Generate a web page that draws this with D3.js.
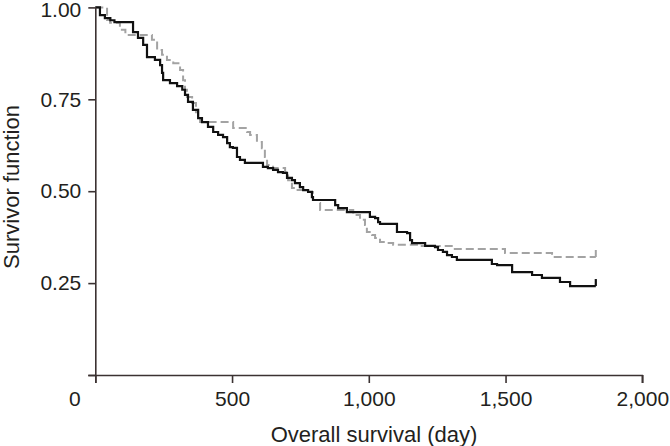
<!DOCTYPE html>
<html>
<head>
<meta charset="utf-8">
<script src="https://cdn.jsdelivr.net/npm/d3@7"></script>
<style>
  body { margin: 0; background: #fff; }
  svg { display: block; }
  text { font-family: "Liberation Sans", Arial, sans-serif; fill: #231f20; }
</style>
</head>
<body>
<svg width="670" height="446"></svg>
<script>
// Kaplan-Meier step data (day of event, survival after event)
var solidDays = [0, 17, 35, 55, 70, 138, 156, 175, 189, 218, 237, 244, 248, 273, 299, 318, 328, 339, 357, 376, 390, 412, 431, 449, 467, 482, 492, 503, 518, 529, 547, 613, 631, 650, 668, 686, 701, 719, 730, 748, 760, 778, 792, 796, 877, 888, 920, 1004, 1023, 1034, 1041, 1103, 1140, 1151, 1158, 1206, 1242, 1253, 1271, 1286, 1304, 1322, 1450, 1469, 1524, 1597, 1633, 1699, 1736];
var solidSurv = [1.0, 0.979, 0.971, 0.965, 0.960, 0.933, 0.917, 0.898, 0.865, 0.857, 0.843, 0.822, 0.802, 0.794, 0.786, 0.776, 0.762, 0.743, 0.721, 0.699, 0.688, 0.675, 0.661, 0.653, 0.647, 0.631, 0.620, 0.618, 0.593, 0.585, 0.577, 0.566, 0.563, 0.558, 0.552, 0.550, 0.536, 0.530, 0.522, 0.511, 0.503, 0.498, 0.484, 0.476, 0.462, 0.454, 0.443, 0.430, 0.427, 0.416, 0.411, 0.389, 0.386, 0.367, 0.359, 0.351, 0.348, 0.340, 0.335, 0.326, 0.321, 0.313, 0.302, 0.299, 0.280, 0.272, 0.264, 0.253, 0.242];

var dashDays = [0, 43, 54, 90, 110, 207, 226, 244, 262, 285, 310, 321, 328, 335, 354, 368, 376, 383, 504, 555, 566, 591, 609, 620, 628, 650, 694, 705, 719, 730, 778, 796, 815, 822, 943, 968, 986, 993, 1012, 1023, 1041, 1066, 1089, 1176, 1308, 1498, 1670];
var dashSurv = [1.0, 0.966, 0.958, 0.939, 0.925, 0.912, 0.884, 0.871, 0.857, 0.848, 0.830, 0.802, 0.776, 0.756, 0.740, 0.715, 0.702, 0.688, 0.672, 0.661, 0.653, 0.634, 0.617, 0.593, 0.571, 0.563, 0.552, 0.530, 0.509, 0.503, 0.498, 0.476, 0.468, 0.449, 0.435, 0.422, 0.408, 0.389, 0.381, 0.373, 0.362, 0.359, 0.354, 0.351, 0.343, 0.332, 0.321];

var lastDay = 1830;
var xTicks = [0, 500, 1000, 1500, 2000];
var yTicks = [0, 0.25, 0.5, 0.75, 1.0];

var svg = d3.select("svg");
var margin = { left: 95.3, right: 27.7, top: 7.4, bottom: 71 };
var width = 670;
var height = 446;
var axisColor = "#3b3232";

var x = d3.scaleLinear().domain([0, 2000]).range([margin.left, width - margin.right]);
var y = d3.scaleLinear().domain([0, 1]).range([height - margin.bottom, margin.top]);

// curves
var line = d3.line()
  .x(function(d) { return x(d[0]); })
  .y(function(d) { return y(d[1]); })
  .curve(d3.curveStepAfter);

function steps(days, surv) {
  var pts = days.map(function(d, i) { return [d, surv[i]]; });
  pts.push([lastDay, surv[surv.length - 1]]);
  return pts;
}

var series = [
  { days: dashDays, surv: dashSurv, color: "#a3a3a3", dash: "8,4", w: 2 },
  { days: solidDays, surv: solidSurv, color: "#111", dash: null, w: 2.2 }
];

series.forEach(function(s) {
  svg.append("path")
    .datum(steps(s.days, s.surv))
    .attr("fill", "none")
    .attr("stroke", s.color)
    .attr("stroke-width", s.w)
    .attr("stroke-dasharray", s.dash)
    .attr("d", line);
  // censor mark at the end
  var last = s.surv[s.surv.length - 1];
  svg.append("line")
    .attr("x1", x(lastDay)).attr("x2", x(lastDay))
    .attr("y1", y(last)).attr("y2", y(last) - 7)
    .attr("stroke", s.color)
    .attr("stroke-width", s.w);
});

// axes
var xAxis = d3.axisBottom(x).tickValues(xTicks).tickSize(8).tickPadding(8)
  .tickFormat(d3.format(","));
var yAxis = d3.axisLeft(y).tickValues(yTicks).tickSize(7).tickPadding(7)
  .tickFormat(function(d) { return d === 0 ? "" : d3.format(".2f")(d); });

var gx = svg.append("g")
  .attr("transform", "translate(0," + y(0) + ")")
  .call(xAxis);
var gy = svg.append("g")
  .attr("transform", "translate(" + x(0) + ",0)")
  .call(yAxis);

[gx, gy].forEach(function(g) {
  g.select(".domain").attr("stroke", axisColor).attr("stroke-width", 1.6);
  g.selectAll(".tick line").attr("stroke", axisColor).attr("stroke-width", 1.6);
  g.selectAll(".tick text").attr("font-size", 21).attr("fill", "#231f20")
    .attr("font-family", "Liberation Sans, Arial, sans-serif");
});
gx.select(".domain").attr("d", "M" + (x(0) - 7) + ",0.5H" + x(2000) + "V8");
gy.select(".domain").attr("d", "M0.5," + (y(0) + 8) + "V" + y(1));
gx.selectAll(".tick text").filter(function(d) { return d === 0; }).attr("x", -21);
gy.selectAll(".tick text").filter(function(d) { return d === 1; }).attr("dy", "0.45em");

// axis titles
svg.append("text")
  .attr("x", 374)
  .attr("y", 442)
  .attr("text-anchor", "middle")
  .attr("font-size", 22)
  .text("Overall survival (day)");

svg.append("text")
  .attr("transform", "translate(19," + 187 + ") rotate(-90)")
  .attr("text-anchor", "middle")
  .attr("font-size", 22)
  .text("Survivor function");
</script>
</body>
</html>
